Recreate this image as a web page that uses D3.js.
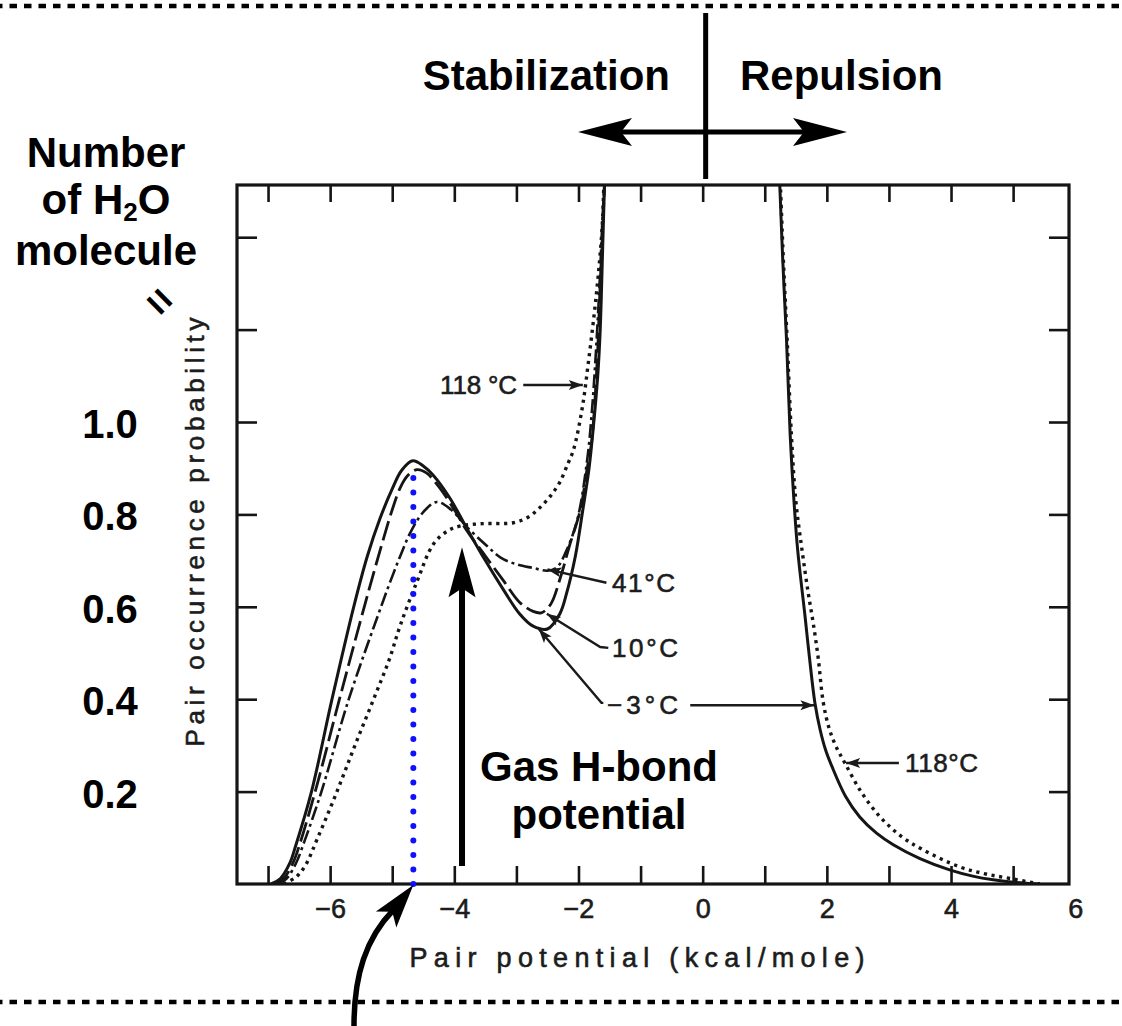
<!DOCTYPE html>
<html><head><meta charset="utf-8">
<script src="https://cdn.jsdelivr.net/npm/d3@7"></script>
<style>html,body{margin:0;padding:0;background:#fff;}svg{display:block;}</style>
</head><body>
<svg id="chart" width="1122" height="1026"></svg>
<script>
// ---------------- data ----------------
const xTicks = [-7,-6,-5,-4,-3,-2,-1,0,1,2,3,4,5];
const xTickLabels = [-6,-4,-2,0,2,4,6];
const yTicks = [0.2,0.4,0.6,0.8,1.0,1.2,1.4];
const yTickLabels = [0.2,0.4,0.6,0.8,1.0];
const temperatures = ["−3°C","10°C","41°C","118°C"];

// -3 °C (solid), stabilization side
const leftM3 = [[-6.95,0],[-6.8,0.012],[-6.65,0.045],[-6.55,0.085],[-6.3,0.2],[-5.97,0.4],[-5.62,0.6],[-5.4,0.71],[-5.2,0.79],[-5.0,0.855],[-4.85,0.895],[-4.67,0.916],[-4.5,0.905],[-4.34,0.885],[-4.07,0.835],[-3.8,0.77],[-3.5,0.70],[-3.2,0.635],[-2.95,0.585],[-2.73,0.558],[-2.5,0.552],[-2.3,0.585],[-2.19,0.63],[-2.05,0.71],[-1.93,0.81],[-1.83,0.9],[-1.76,0.99],[-1.69,1.1],[-1.65,1.2],[-1.61,1.38],[-1.58,1.52]];
// 10 °C (long dash)
const left10 = [[-6.9,0],[-6.75,0.012],[-6.6,0.045],[-6.48,0.09],[-6.2,0.22],[-5.85,0.4],[-5.45,0.6],[-5.2,0.72],[-5.0,0.81],[-4.87,0.858],[-4.75,0.884],[-4.6,0.897],[-4.45,0.89],[-4.25,0.86],[-4.0,0.81],[-3.8,0.765],[-3.5,0.71],[-3.2,0.655],[-2.95,0.61],[-2.73,0.59],[-2.6,0.587],[-2.45,0.605],[-2.29,0.664],[-2.15,0.73],[-1.97,0.81],[-1.86,0.9],[-1.79,0.955],[-1.7,1.13],[-1.65,1.3],[-1.6,1.45],[-1.58,1.52]];
// 41 °C (dash-dot)
const left41 = [[-6.85,0],[-6.7,0.012],[-6.55,0.045],[-6.42,0.09],[-6.14,0.2],[-5.7,0.4],[-5.18,0.6],[-5.03,0.655],[-4.87,0.71],[-4.71,0.76],[-4.5,0.805],[-4.28,0.827],[-4.05,0.81],[-3.8,0.773],[-3.5,0.735],[-3.26,0.707],[-3.0,0.692],[-2.73,0.684],[-2.5,0.678],[-2.35,0.685],[-2.2,0.72],[-2.02,0.788],[-1.86,0.918],[-1.78,1.03],[-1.72,1.15],[-1.66,1.3],[-1.61,1.45],[-1.58,1.52]];
// 118 °C (dotted)
const left118 = [[-6.75,0],[-6.55,0.015],[-6.4,0.04],[-6.2,0.1],[-5.89,0.2],[-5.6,0.3],[-5.3,0.4],[-5.05,0.485],[-4.87,0.56],[-4.6,0.655],[-4.34,0.735],[-4.1,0.765],[-3.9,0.775],[-3.54,0.78],[-3.05,0.782],[-2.8,0.795],[-2.62,0.815],[-2.45,0.84],[-2.3,0.87],[-2.17,0.91],[-2.08,0.94],[-1.94,1.03],[-1.84,1.13],[-1.75,1.23],[-1.68,1.32],[-1.62,1.42],[-1.59,1.52]];
// repulsion side
const rightM3 = [[1.24,1.52],[1.29,1.35],[1.35,1.18],[1.41,0.97],[1.47,0.83],[1.53,0.723],[1.65,0.578],[1.72,0.49],[1.81,0.39],[1.89,0.335],[1.98,0.29],[2.08,0.255],[2.3,0.19],[2.53,0.145],[2.8,0.11],[3.07,0.085],[3.5,0.055],[3.99,0.03],[4.35,0.017],[4.68,0.009],[5.0,0.004],[5.43,0]];
const right118 = [[1.25,1.52],[1.3,1.35],[1.36,1.18],[1.43,0.97],[1.5,0.83],[1.6,0.723],[1.7,0.63],[1.78,0.565],[1.86,0.49],[1.94,0.395],[2.03,0.34],[2.14,0.3],[2.29,0.262],[2.55,0.2],[2.86,0.145],[3.2,0.103],[3.55,0.074],[4.14,0.037],[4.55,0.022],[4.95,0.012],[5.43,0]];

// ---------------- scales ----------------
const svg = d3.select("#chart");
const x = d3.scaleLinear().domain([-7.5, 5.9]).range([237, 1069]);
const y = d3.scaleLinear().domain([0, 1.513]).range([884, 185]);
const INK = "#151515";
const scanFont = "'Liberation Sans', Arial, sans-serif";
const scanText = g => g.attr("font-family",scanFont).attr("fill","#1c1c1c")
  .attr("stroke","#1c1c1c").attr("stroke-width",0.6);

// ---------------- overlay dotted borders ----------------
[6, 1002].forEach(yy => {
  svg.append("line").attr("x1",0).attr("x2",1122).attr("y1",yy).attr("y2",yy)
    .attr("stroke","#000").attr("stroke-width",4.5).attr("stroke-dasharray","7.5 7")
    .attr("stroke-dashoffset",5);
});

// ---------------- frame & axes ----------------
const gAx = svg.append("g");
function styleAxis(g){ g.select(".domain").remove(); g.selectAll(".tick line").attr("stroke",INK).attr("stroke-width",2.6); }
gAx.append("g").attr("transform",`translate(0,${y(0)})`)
  .call(d3.axisBottom(x).tickValues(xTicks).tickSize(-18).tickSizeOuter(0).tickFormat("")).call(styleAxis);
gAx.append("g").attr("transform",`translate(0,${y(1.513)})`)
  .call(d3.axisTop(x).tickValues(xTicks).tickSize(-17).tickSizeOuter(0).tickFormat("")).call(styleAxis);
gAx.append("g").attr("transform",`translate(${x(-7.5)},0)`)
  .call(d3.axisLeft(y).tickValues(yTicks).tickSize(-20).tickSizeOuter(0).tickFormat("")).call(styleAxis);
gAx.append("g").attr("transform",`translate(${x(5.9)},0)`)
  .call(d3.axisRight(y).tickValues(yTicks).tickSize(-20).tickSizeOuter(0).tickFormat("")).call(styleAxis);
// tick labels
const gLab = gAx.append("g").attr("transform",`translate(0,${y(0)})`)
  .call(d3.axisBottom(x).tickValues(xTickLabels).tickSize(0).tickSizeOuter(0)
    .tickFormat(d => d < 0 ? "−" + Math.abs(d) : String(d)));
gLab.select(".domain").remove();
gLab.selectAll("text").attr("y",34).attr("dy",0).attr("font-size",27).call(scanText);

svg.append("rect").attr("x",x(-7.5)).attr("y",y(1.513))
  .attr("width",x(5.9)-x(-7.5)).attr("height",y(0)-y(1.513))
  .attr("fill","none").attr("stroke",INK).attr("stroke-width",3.2);

// axis titles (original figure)
svg.append("text").attr("x",637).attr("y",967).attr("text-anchor","middle")
  .attr("font-size",27).call(scanText)
  .attr("textLength",455).attr("lengthAdjust","spacing")
  .text("Pair potential (kcal/mole)");
svg.append("text").attr("transform","translate(204,532) rotate(-90)").attr("text-anchor","middle")
  .attr("font-size",26).call(scanText)
  .attr("textLength",429).attr("lengthAdjust","spacing")
  .text("Pair occurrence probability");

// ---------------- curves ----------------
svg.append("clipPath").attr("id","plotclip").append("rect")
  .attr("x",x(-7.5)).attr("y",y(1.513)).attr("width",x(5.9)-x(-7.5)).attr("height",y(0)-y(1.513));
const line = d3.line().x(d=>x(d[0])).y(d=>y(d[1])).curve(d3.curveCatmullRom.alpha(0.5));
const gC = svg.append("g").attr("clip-path","url(#plotclip)").attr("fill","none").attr("stroke",INK);
const curves = [
  {data:left118, w:3.4, dash:"3.2 4.6"},
  {data:right118, w:3.4, dash:"3.2 4.6"},
  {data:left41, w:2.6, dash:"14 4 3 4"},
  {data:left10, w:2.8, dash:"20 6"},
  {data:leftM3, w:3.0, dash:null},
  {data:rightM3, w:3.0, dash:null}
];
curves.forEach(c => {
  gC.append("path").datum(c.data).attr("d",line).attr("stroke-width",c.w)
    .attr("stroke-dasharray",c.dash);
});

// ---------------- helpers ----------------
function arrowHead(g, tip, from, len, hw, notch, fill){
  const dx=tip[0]-from[0], dy=tip[1]-from[1], L=Math.hypot(dx,dy);
  const ux=dx/L, uy=dy/L, nx=-uy, ny=ux;
  const bx=tip[0]-ux*len, by=tip[1]-uy*len;
  const pts=[[tip[0],tip[1]],[bx+nx*hw,by+ny*hw],[tip[0]-ux*(len-notch),tip[1]-uy*(len-notch)],[bx-nx*hw,by-ny*hw]];
  g.append("path").attr("d","M"+pts.map(p=>p.join(",")).join("L")+"Z").attr("fill",fill||"#000").attr("stroke","none");
}

// ---------------- temperature labels & leaders ----------------
const tempLabels = [
  {text:"118 °C", at:[-4.23,1.08], len:77, leader:[[-2.89,1.08],[-1.93,1.08]]},
  {text:"41°C",  at:[-1.46,0.652], len:63, leader:[[-1.55,0.652],[-2.5,0.681]]},
  {text:"10°C",  at:[-1.46,0.511], len:66, leader:[[-1.52,0.511],[-1.65,0.513],[-2.51,0.585]]},
  {text:"−3°C",  at:[-1.54,0.387], len:71, leader:[[-1.6,0.392],[-1.63,0.392],[-2.64,0.552]]},
  {text:"",      at:null, leader:[[-0.2,0.387],[1.8,0.387]]},
  {text:"118°C", at:[3.26,0.262], len:73, leader:[[3.16,0.262],[2.31,0.262]]}
];
const gL = svg.append("g");
tempLabels.forEach(t => {
  if (t.at) {
    gL.append("text").attr("x",x(t.at[0])).attr("y",y(t.at[1])+9)
      .attr("font-size",26).call(scanText)
      .attr("textLength",t.len).attr("lengthAdjust","spacing").text(t.text);
  }
  const pts = t.leader.map(p=>[x(p[0]),y(p[1])]);
  gL.append("path").attr("d","M"+pts.map(p=>p.join(",")).join("L"))
    .attr("fill","none").attr("stroke","#1a1a1a").attr("stroke-width",2.4);
  arrowHead(gL, pts[pts.length-1], pts[pts.length-2], 14, 5, 3, "#1a1a1a");
});

// ---------------- overlay annotations ----------------
// blue dotted marker at the peak position
const peakX = -4.66, peakTop = 0.89;
svg.append("line").attr("x1",x(peakX)).attr("x2",x(peakX)).attr("y1",y(0)).attr("y2",y(peakTop))
  .attr("stroke","#1010ff").attr("stroke-width",6).attr("stroke-linecap","round")
  .attr("stroke-dasharray","0 14.5");

// gas H-bond arrow
const gasX = -3.876;
const gasTip=[x(gasX),y(0.729)], gasBase=[x(gasX),y(0.039)];
svg.append("line").attr("x1",gasBase[0]).attr("x2",gasBase[0]).attr("y1",gasBase[1]).attr("y2",gasTip[1]+40)
  .attr("stroke","#000").attr("stroke-width",6);
arrowHead(svg, gasTip, gasBase, 50, 13.5, 9);
const bold = g => g.attr("font-family","'Liberation Sans', Arial, sans-serif").attr("font-weight","bold").attr("font-size",42).attr("fill","#000");
svg.append("text").attr("x",599).attr("y",781).attr("text-anchor","middle").call(bold).text("Gas H-bond");
svg.append("text").attr("x",599).attr("y",829).attr("text-anchor","middle").call(bold).text("potential");

// curved arrow from below
const cTip=[x(peakX),y(0)+1];
svg.append("path").attr("d",`M354,1026 C354,975 366,938 ${cTip[0]-20},${cTip[1]+25}`)
  .attr("fill","none").attr("stroke","#000").attr("stroke-width",5.5);
arrowHead(svg, cTip, [cTip[0]-26,cTip[1]+33], 44, 13, 10);

// top divider and double arrow
svg.append("line").attr("x1",x(0)+3).attr("x2",x(0)+3).attr("y1",13).attr("y2",179)
  .attr("stroke","#000").attr("stroke-width",5);
svg.append("line").attr("x1",615).attr("x2",810).attr("y1",132).attr("y2",132)
  .attr("stroke","#000").attr("stroke-width",5);
arrowHead(svg,[578,132],[700,132],54,14,11);
arrowHead(svg,[847,132],[700,132],54,14,11);
svg.append("text").attr("x",670).attr("y",90).attr("text-anchor","end").call(bold).text("Stabilization");
svg.append("text").attr("x",740).attr("y",90).call(bold).text("Repulsion");

// left label block
svg.append("text").attr("x",106).attr("y",167).attr("text-anchor","middle").call(bold).text("Number");
const t2 = svg.append("text").attr("x",106).attr("y",214).attr("text-anchor","middle").call(bold);
t2.append("tspan").text("of H");
t2.append("tspan").attr("font-size",26).attr("dy",7).text("2");
t2.append("tspan").attr("dy",-7).text("O");
svg.append("text").attr("x",106).attr("y",265).attr("text-anchor","middle").call(bold).text("molecule");
svg.append("text").attr("transform","translate(160,301) rotate(45)").attr("text-anchor","middle")
  .attr("dy","0.35em").call(bold).text("=");

// bold y labels
yTickLabels.forEach(v => {
  svg.append("text").attr("x",110).attr("y",y(v)+16).attr("text-anchor","middle")
    .call(bold).attr("font-size",40).text(v.toFixed(1));
});
</script>
</body></html>
